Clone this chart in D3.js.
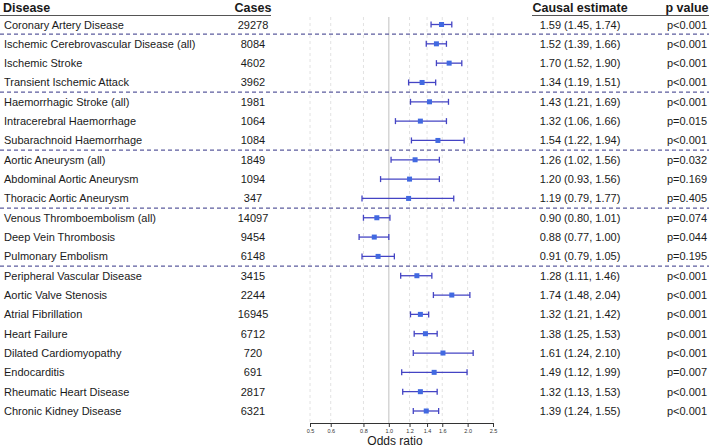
<!DOCTYPE html>
<html><head><meta charset="utf-8">
<script src="https://cdn.jsdelivr.net/npm/d3@7"></script>
<style>html,body{margin:0;padding:0;background:#fff;}svg{display:block;font-family:"Liberation Sans",Arial,sans-serif;}</style>
</head><body><svg id="c" width="709" height="448"></svg>
<script>
const diseases = ["Coronary Artery Disease","Ischemic Cerebrovascular Disease (all)","Ischemic Stroke","Transient Ischemic Attack","Haemorrhagic Stroke (all)","Intracerebral Haemorrhage","Subarachnoid Haemorrhage","Aortic Aneurysm (all)","Abdominal Aortic Aneurysm","Thoracic Aortic Aneurysm","Venous Thromboembolism (all)","Deep Vein Thrombosis","Pulmonary Embolism","Peripheral Vascular Disease","Aortic Valve Stenosis","Atrial Fibrillation","Heart Failure","Dilated Cardiomyopathy","Endocarditis","Rheumatic Heart Disease","Chronic Kidney Disease"];
const cases = [29278,8084,4602,3962,1981,1064,1084,1849,1094,347,14097,9454,6148,3415,2244,16945,6712,720,691,2817,6321];
const estimate = [1.59,1.52,1.70,1.34,1.43,1.32,1.54,1.26,1.20,1.19,0.90,0.88,0.91,1.28,1.74,1.32,1.38,1.61,1.49,1.32,1.39];
const lower = [1.45,1.39,1.52,1.19,1.21,1.06,1.22,1.02,0.93,0.79,0.80,0.77,0.79,1.11,1.48,1.21,1.25,1.24,1.12,1.13,1.24];
const upper = [1.74,1.66,1.90,1.51,1.69,1.66,1.94,1.56,1.56,1.77,1.01,1.00,1.05,1.46,2.04,1.42,1.53,2.10,1.99,1.53,1.55];
const pvalues = ["p<0.001","p<0.001","p<0.001","p<0.001","p<0.001","p=0.015","p<0.001","p=0.032","p=0.169","p=0.405","p=0.074","p=0.044","p=0.195","p<0.001","p<0.001","p<0.001","p<0.001","p<0.001","p=0.007","p<0.001","p<0.001"];
const groupEnds = [0,3,6,9,12]; // index of last row in each group (separator after)
const tickValues = [0.5,0.6,0.8,1.0,1.2,1.4,1.6,2.0,2.5];
const headers = ["Disease","Cases","Causal estimate","p value"];

const svg = d3.select("#c");
const x = d3.scaleLog().domain([0.5,2.5]).range([310,493]);
const y = d3.scalePoint().domain(d3.range(diseases.length)).range([24.5,411]);
const step = y.step();
const gridTop = 17, axisY = 423;
const textColor = "#1a1a1a";

// grid
svg.append("g").selectAll("line").data(tickValues).join("line")
  .attr("x1",d=>x(d)).attr("x2",d=>x(d)).attr("y1",gridTop).attr("y2",axisY)
  .attr("stroke",d=>d===1?"#cfcfcf":"#e2e2e2")
  .attr("stroke-width",d=>d===1?1.3:1)
  .attr("stroke-dasharray",d=>d===1?null:"3,3");

// headers
const hdr = svg.append("g").attr("font-weight","bold").attr("font-size",12.5).attr("fill",textColor);
hdr.append("text").attr("x",3).attr("y",11.5).text(headers[0]);
hdr.append("text").attr("x",253).attr("y",11.5).attr("text-anchor","middle").text(headers[1]);
hdr.append("text").attr("x",580).attr("y",11.5).attr("text-anchor","middle").text(headers[2]);
hdr.append("text").attr("x",687).attr("y",11.5).attr("text-anchor","middle").text(headers[3]);
svg.append("line").attr("x1",0).attr("x2",271).attr("y1",15.5).attr("y2",15.5).attr("stroke","#555").attr("stroke-width",1);
svg.append("line").attr("x1",532).attr("x2",709).attr("y1",15.5).attr("y2",15.5).attr("stroke","#555").attr("stroke-width",1);

// separators
svg.append("g").selectAll("line").data(groupEnds).join("line")
  .attr("x1",0).attr("x2",709)
  .attr("y1",d=>y(d)+step/2).attr("y2",d=>y(d)+step/2)
  .attr("stroke","#5c5c9e").attr("stroke-width",1.2).attr("stroke-dasharray","4,3");

// text columns
const rows = svg.append("g").attr("font-size",11).attr("fill",textColor);
const idx = d3.range(diseases.length);
rows.selectAll(".dn").data(idx).join("text").attr("x",4).attr("y",i=>y(i)+4).text(i=>diseases[i]);
rows.selectAll(".cs").data(idx).join("text").attr("x",253).attr("y",i=>y(i)+4).attr("text-anchor","middle").text(i=>cases[i]);
const f2 = d3.format(".2f");
rows.selectAll(".ce").data(idx).join("text").attr("x",580).attr("y",i=>y(i)+4).attr("text-anchor","middle")
  .text(i=>`${f2(estimate[i])} (${f2(lower[i])}, ${f2(upper[i])})`);
rows.selectAll(".pv").data(idx).join("text").attr("x",687).attr("y",i=>y(i)+4).attr("text-anchor","middle").text(i=>pvalues[i]);

// CIs
const ci = svg.append("g").attr("stroke","#4444c4").attr("stroke-width",1.3);
ci.selectAll(".l").data(idx).join("line").attr("x1",i=>x(lower[i])).attr("x2",i=>x(upper[i])).attr("y1",i=>y(i)).attr("y2",i=>y(i));
ci.selectAll(".c1").data(idx).join("line").attr("x1",i=>x(lower[i])).attr("x2",i=>x(lower[i])).attr("y1",i=>y(i)-3).attr("y2",i=>y(i)+3);
ci.selectAll(".c2").data(idx).join("line").attr("x1",i=>x(upper[i])).attr("x2",i=>x(upper[i])).attr("y1",i=>y(i)-3).attr("y2",i=>y(i)+3);
svg.append("g").selectAll("rect").data(idx).join("rect")
  .attr("x",i=>x(estimate[i])-2.5).attr("y",i=>y(i)-2.5).attr("width",5).attr("height",5).attr("fill","#4169e1");

// axis
const axis = d3.axisBottom(x).tickValues(tickValues).tickFormat(d3.format(".1f")).tickSize(4).tickSizeOuter(0);
const ag = svg.append("g").attr("transform",`translate(0,${axisY})`).call(axis);
ag.select(".domain").attr("stroke","#333").attr("stroke-width",1.2);
ag.selectAll(".tick line").attr("stroke","#333");
ag.selectAll("text").attr("font-size",5.5).attr("fill","#333").attr("font-family","Liberation Sans, Arial, sans-serif").attr("dy","0.5em");
svg.append("text").attr("x",395).attr("y",445).attr("text-anchor","middle").attr("font-size",12).attr("fill",textColor).text("Odds ratio");
</script></body></html>
